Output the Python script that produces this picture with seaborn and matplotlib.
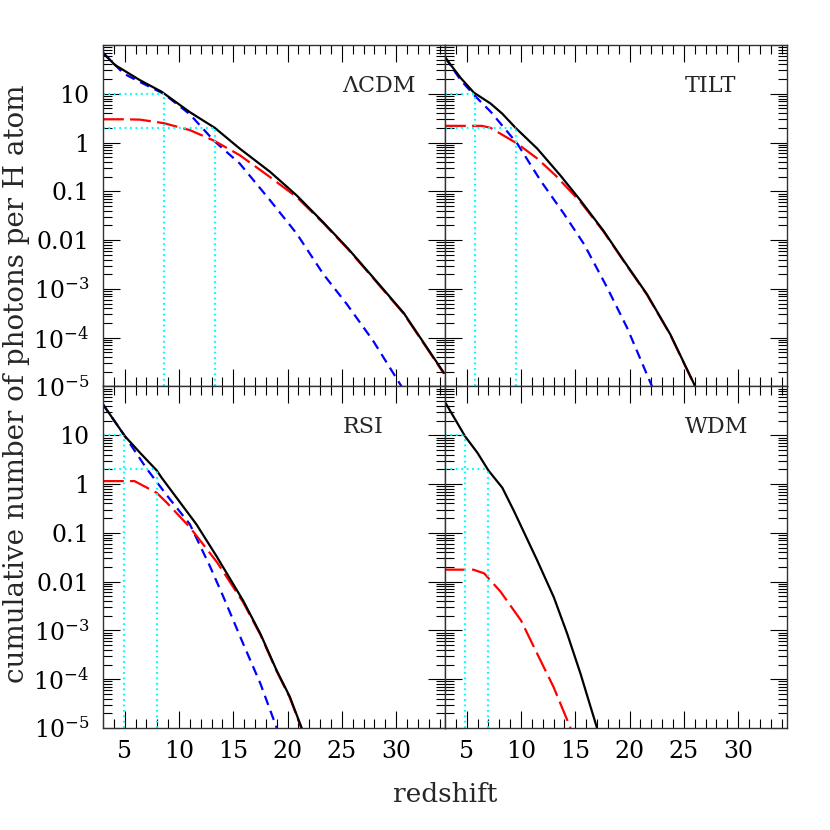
import numpy as np
import pandas as pd
import matplotlib
matplotlib.use("Agg")
import matplotlib.pyplot as plt
import seaborn as sns
from matplotlib.ticker import FixedLocator, LogLocator, MultipleLocator, NullFormatter

# ---------------- data ----------------
panel_names = ["ΛCDM", "TILT", "RSI", "WDM"]

# ΛCDM
lcdm_tot_z = [3.0, 4.1, 6.4, 8.4, 11.0, 13.3, 15.6, 18.4, 20.85, 23.3, 25.6, 27.9, 30.7, 34.4]
lcdm_tot_n = [69, 39, 19, 11, 4.2, 2.0, 0.75, 0.25, 0.082, 0.023, 6.6e-3, 1.7e-3, 3.2e-4, 1.9e-5]
lcdm_b_z = [3.0, 4.9, 6.5, 8.6, 11.0, 13.2, 15.6, 18.4, 20.85, 23.3, 25.45, 27.9, 30.5]
lcdm_b_n = [69, 26, 17, 10, 3.8, 1.1, 0.37, 0.065, 0.0135, 2.0e-3, 4.9e-4, 8.5e-5, 1.0e-5]
lcdm_r_z = [3.0, 5.0, 6.4, 8.6, 11.0, 13.2, 15.6, 18.4, 20.85, 23.3, 25.6, 27.9, 30.7, 34.4]
lcdm_r_n = [3.0, 3.0, 2.95, 2.5, 1.8, 1.1, 0.55, 0.195, 0.076, 0.0222, 6.4e-3, 1.64e-3, 3.1e-4, 1.83e-5]
lcdm_cross = [8.6, 13.3]

# TILT
tilt_tot_z = [3.0, 4.45, 5.67, 7.2, 8.28, 9.5, 11.5, 13.64, 15.48, 17.6, 19.46, 21.6, 23.75, 26.05]
tilt_tot_n = [56, 21, 10.5, 6.3, 3.9, 2.0, 0.75, 0.21, 0.065, 0.0155, 3.8e-3, 7.8e-4, 1.17e-4, 1.0e-5]
tilt_b_z = [3.0, 4.45, 5.7, 7.2, 9.66, 11.8, 13.94, 15.8, 17.93, 19.77, 22.07]
tilt_b_n = [56, 19, 9.3, 4.3, 0.95, 0.166, 0.035, 8.3e-3, 1.07e-3, 1.6e-4, 1.0e-5]
tilt_r_z = [3.0, 6.4, 7.2, 9.66, 11.5, 13.2, 15.5, 17.6, 19.46, 21.6, 23.75, 26.05]
tilt_r_n = [2.2, 2.2, 2.0, 0.95, 0.47, 0.21, 0.06, 0.015, 3.7e-3, 7.6e-4, 1.15e-4, 9.8e-6]
tilt_cross = [5.75, 9.5]

# RSI
rsi_tot_z = [3.0, 5.03, 6.4, 7.95, 8.4, 11.6, 13.5, 15.9, 17.5, 19.0, 20.2, 21.3]
rsi_tot_n = [43, 9.5, 4.4, 1.9, 1.35, 0.15, 0.032, 4.1e-3, 8.5e-4, 1.5e-4, 4.4e-5, 1.0e-5]
rsi_b_z = [3.0, 5.03, 7.0, 8.9, 11.0, 12.9, 14.1, 15.9, 17.5, 19.0]
rsi_b_n = [43, 9.5, 2.1, 0.58, 0.15, 0.0195, 4.8e-3, 5.4e-4, 8.1e-5, 1.0e-5]
rsi_r_z = [3.0, 5.9, 7.95, 8.9, 11.0, 13.5, 15.9, 17.5, 19.0, 20.2, 21.3]
rsi_r_n = [1.15, 1.15, 0.66, 0.41, 0.13, 0.025, 3.8e-3, 8.1e-4, 1.45e-4, 4.2e-5, 9.5e-6]
rsi_cross = [4.96, 7.95]

# WDM
wdm_tot_z = [3.0, 4.85, 5.98, 7.0, 8.28, 9.35, 11.5, 13.02, 14.26, 15.48, 17.0]
wdm_tot_n = [48, 9.5, 4.4, 1.9, 0.84, 0.28, 0.027, 4.8e-3, 8.5e-4, 1.3e-4, 1.0e-5]
wdm_r_z = [3.0, 5.6, 6.6, 8.1, 10.0, 11.5, 13.0, 14.56]
wdm_r_n = [0.0176, 0.0176, 0.0148, 6.3e-3, 1.6e-3, 3.3e-4, 6.9e-5, 1.0e-5]
wdm_cross = [4.85, 7.0]

cross_levels = [10, 2]

xtick_vals = [5, 10, 15, 20, 25, 30]
ytick_vals = [1e-5, 1e-4, 1e-3, 1e-2, 1e-1, 1, 10, 100]
ytick_labels = [r"$10^{-5}$", r"$10^{-4}$", r"$10^{-3}$", "0.01", "0.1", "1", "10", ""]

# ---------------- build long table ----------------
rows = []
def add(model, comp, zs, ns):
    for z, n in zip(zs, ns):
        rows.append((model, comp, z, n))

add("ΛCDM", "total", lcdm_tot_z, lcdm_tot_n)
add("ΛCDM", "blue", lcdm_b_z, lcdm_b_n)
add("ΛCDM", "red", lcdm_r_z, lcdm_r_n)
add("TILT", "total", tilt_tot_z, tilt_tot_n)
add("TILT", "blue", tilt_b_z, tilt_b_n)
add("TILT", "red", tilt_r_z, tilt_r_n)
add("RSI", "total", rsi_tot_z, rsi_tot_n)
add("RSI", "blue", rsi_b_z, rsi_b_n)
add("RSI", "red", rsi_r_z, rsi_r_n)
add("WDM", "total", wdm_tot_z, wdm_tot_n)
add("WDM", "red", wdm_r_z, wdm_r_n)
df = pd.DataFrame(rows, columns=["model", "comp", "z", "n"])

crosses = {"ΛCDM": lcdm_cross, "TILT": tilt_cross, "RSI": rsi_cross, "WDM": wdm_cross}

# ---------------- style ----------------
sns.set_style("ticks")
plt.rcParams["font.family"] = ["DejaVu Serif"]
plt.rcParams["mathtext.fontset"] = "dejavuserif"
plt.rcParams["lines.scale_dashes"] = False

styles = {
    "red": dict(color="#ff0000", linestyle=(0, (15, 4.5)), linewidth=1.6),
    "blue": dict(color="#0000ff", linestyle=(0, (7, 4.5)), linewidth=1.6),
    "total": dict(color="black", linestyle="-", linewidth=1.6),
}

fig, axes = plt.subplots(2, 2, figsize=(8.3, 8.3), dpi=100, sharex=True, sharey=True)
fig.subplots_adjust(left=0.1241, right=0.9482, top=0.9458, bottom=0.1229, wspace=0, hspace=0)

XMIN, XMAX = 3.0, 34.5
YMIN, YMAX = 1e-5, 1e2

for ax, name in zip(axes.flat, panel_names):
    ax.set_yscale("log")
    sub = df[df.model == name]
    for comp in ["blue", "red", "total"]:
        s = sub[sub.comp == comp]
        if len(s) == 0:
            continue
        sns.lineplot(data=s, x="z", y="n", ax=ax, estimator=None, sort=True, **styles[comp])
    zc = crosses[name]
    for zx, lev in zip(zc, cross_levels):
        ax.hlines(lev, XMIN, zx, colors="#00ffff", linestyles=(0, (1.3, 2.6)), linewidth=1.6)
        ax.vlines(zx, YMIN, lev, colors="#00ffff", linestyles=(0, (1.3, 2.6)), linewidth=1.6)
    ax.set_xlim(XMIN, XMAX)
    ax.set_ylim(YMIN, YMAX)
    ax.set_xlabel("")
    ax.set_ylabel("")
    ax.xaxis.set_major_locator(FixedLocator(xtick_vals))
    ax.xaxis.set_minor_locator(MultipleLocator(1))
    ax.yaxis.set_major_locator(FixedLocator(ytick_vals))
    ax.yaxis.set_minor_locator(LogLocator(base=10, subs=np.arange(2, 10), numticks=20))
    ax.yaxis.set_minor_formatter(NullFormatter())
    ax.set_yticklabels(ytick_labels)
    ax.set_xticklabels([str(v) for v in xtick_vals])
    ax.tick_params(which="both", direction="in", top=True, right=True, width=0.8, colors="black")
    ax.tick_params(which="major", length=12)
    ax.tick_params(which="minor", length=6.5)
    ax.tick_params(axis="y", which="major", labelsize=17, pad=10)
    ax.tick_params(axis="x", which="major", labelsize=17, pad=9)
    for sp in ax.spines.values():
        sp.set_linewidth(1.0)
        sp.set_color("#333333")
    ax.text(0.70, 0.88, name, transform=ax.transAxes, ha="left", va="center", fontsize=16)

for ax in axes[:, 1]:
    ax.tick_params(labelleft=False)
for ax in axes[0, :]:
    ax.tick_params(labelbottom=False)

fig.text(445 / 830, 1 - 794 / 830, "redshift", ha="center", va="center", fontsize=19)
fig.text(17 / 830, 1 - 384 / 830, "cumulative number of photons per H atom",
         ha="center", va="center", rotation=90, fontsize=20)

fig.savefig("out.png", dpi=100)
